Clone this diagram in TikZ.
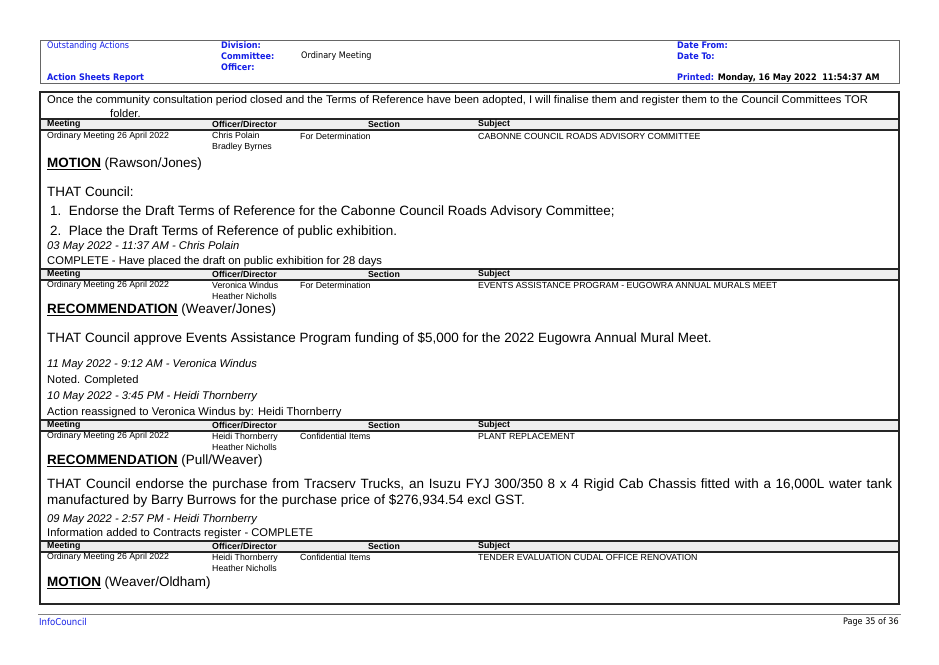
\documentclass[tikz,border=0pt]{standalone}
\usepackage{fontspec}
\setmainfont{Liberation Sans}
\newfontfamily\hdr{DejaVu Sans Condensed}
\definecolor{hblue}{RGB}{20,30,230}
\definecolor{hgrey}{RGB}{238,238,238}
\begin{document}
\begin{tikzpicture}[x=1pt,y=-1pt,
  txt/.style={anchor=west,inner sep=0pt,font=\fontsize{8.8}{11}\selectfont},
  hd/.style={anchor=west,inner sep=0pt,font=\fontsize{8.8}{10}\selectfont\bfseries},
  big/.style={anchor=west,inner sep=0pt,font=\fontsize{13.45}{16}\selectfont},
  mid/.style={anchor=west,inner sep=0pt,font=\fontsize{11.2}{13}\selectfont},
  blu/.style={anchor=west,inner sep=0pt,text=hblue,font=\hdr\fontsize{9}{10}\selectfont},
  blub/.style={blu,font=\hdr\fontsize{9}{10}\selectfont\bfseries}]
\useasboundingbox (0,0) rectangle (939,664);
% header box
\draw[gray!80!black,line width=1pt] (40,40) rectangle (899,83);
\node[blu] (oa) at (47,46) {Outstanding Actions};
\node[blub] (asr) at (47,78) {Action Sheets Report};
\node[blub] (div) at (221,45) {Division:};
\node[blub] (com) at (221,56) {Committee:};
\node[blub] (off) at (221,67) {Officer:};
\node[txt,font=\hdr\fontsize{9}{10}\selectfont] (om) at (301,56) {Ordinary Meeting};
\node[blub] (df) at (677,45) {Date From:};
\node[blub] (dt) at (677,56) {Date To:};
\node[blub] (pr) at (677,78) {Printed: \textcolor{black}{Monday, 16 May 2022\ \ 11:54:37 AM}};
% main box
\draw[line width=1.8pt,black!85] (40,92) rectangle (899,604);
\node[mid] (l1) at (47,101) {Once the community consultation period closed and the Terms of Reference have been adopted, I will finalise them and register them to the Council Committees TOR};
\node[mid] (l2) at (110,113) {folder.};
\foreach \t/\b in {119/130,269/280,420/431,541/552}{
  \fill[hgrey] (41,\t) rectangle (898,\b);
  \draw[line width=1.6pt,black!85] (40,\t) -- (899,\t);
  \draw[line width=1.6pt,black!85] (40,\b) -- (899,\b);
  \node[hd] at (47,{(\t+\b)/2}) {Meeting};
  \node[hd] at (212,{(\t+\b)/2}) {Officer/Director};
  \node[hd,anchor=center] at (384,{(\t+\b)/2}) {Section};
  \node[hd] at (478,{(\t+\b)/2}) {Subject};
}
% record 1
\node[txt] (m1) at (47,136) {Ordinary Meeting 26 April 2022};
\node[txt,align=left] (o1) at (212,142) {Chris Polain\\Bradley Byrnes};
\node[txt] (s1) at (300,136) {For Determination};
\node[txt] (u1) at (478,136) {CABONNE COUNCIL ROADS ADVISORY COMMITTEE};
\node[big] (mo1) at (47,164) {\textbf{\underline{MOTION}} (Rawson/Jones)};
\node[big] (th1) at (47,192) {THAT Council:};
\node[big] (it1) at (50,212) {1.\ \ Endorse the Draft Terms of Reference for the Cabonne Council Roads Advisory Committee;};
\node[big] (it2) at (50,232) {2.\ \ Place the Draft Terms of Reference of public exhibition.};
\node[mid,font=\fontsize{11.2}{13}\selectfont\itshape] (n1) at (47,247) {03 May 2022 - 11:37 AM - Chris Polain};
\node[mid] (c1) at (47,262) {COMPLETE - Have placed the draft on public exhibition for 28 days};
% record 2
\node[txt] (m2) at (47,285) {Ordinary Meeting 26 April 2022};
\node[txt,align=left] (o2) at (212,291) {Veronica Windus\\Heather Nicholls};
\node[txt] (s2) at (300,285) {For Determination};
\node[txt] (u2) at (478,285) {EVENTS ASSISTANCE PROGRAM - EUGOWRA ANNUAL MURALS MEET};
\node[big] (mo2) at (47,310) {\textbf{\underline{RECOMMENDATION}} (Weaver/Jones)};
\node[big] (th2) at (47,339) {THAT Council approve Events Assistance Program funding of \$5,000 for the 2022 Eugowra Annual Mural Meet.};
\node[mid,font=\fontsize{11.2}{13}\selectfont\itshape] (n2) at (47,365) {11 May 2022 - 9:12 AM - Veronica Windus};
\node[mid] (c2) at (47,381) {Noted. Completed};
\node[mid,font=\fontsize{11.2}{13}\selectfont\itshape] (n3) at (47,397) {10 May 2022 - 3:45 PM - Heidi Thornberry};
\node[mid] (c3) at (47,413) {Action reassigned to Veronica Windus by: Heidi Thornberry};
% record 3
\node[txt] (m3) at (47,436) {Ordinary Meeting 26 April 2022};
\node[txt,align=left] (o3) at (212,442) {Heidi Thornberry\\Heather Nicholls};
\node[txt] (s3) at (300,436) {Confidential Items};
\node[txt] (u3) at (478,436) {PLANT REPLACEMENT};
\node[big] (mo3) at (47,461) {\textbf{\underline{RECOMMENDATION}} (Pull/Weaver)};
\node[big,anchor=north west,text width=845pt,align=justify,font=\fontsize{13.45}{16}\selectfont] (th3) at (47,479) {THAT Council endorse the purchase from Tracserv Trucks, an Isuzu FYJ 300/350 8 x 4 Rigid Cab Chassis fitted with a 16,000L water tank manufactured by Barry Burrows for the purchase price of \$276,934.54 excl GST.};
\node[mid,font=\fontsize{11.2}{13}\selectfont\itshape] (n4) at (47,520) {09 May 2022 - 2:57 PM - Heidi Thornberry};
\node[mid] (c4) at (47,534) {Information added to Contracts register - COMPLETE};
% record 4
\node[txt] (m4) at (47,557) {Ordinary Meeting 26 April 2022};
\node[txt,align=left] (o4) at (212,563) {Heidi Thornberry\\Heather Nicholls};
\node[txt] (s4) at (300,557) {Confidential Items};
\node[txt] (u4) at (478,557) {TENDER EVALUATION CUDAL OFFICE RENOVATION};
\node[big] (mo4) at (47,583) {\textbf{\underline{MOTION}} (Weaver/Oldham)};
% footer
\draw[gray,line width=0.8pt] (38,614) -- (901,614);
\node[blu,font=\hdr\fontsize{9.5}{11}\selectfont] (ic) at (39,622) {InfoCouncil};
\node[txt,anchor=east,font=\hdr\fontsize{9}{10}\selectfont] (pg) at (899,622) {Page 35 of 36};
\end{tikzpicture}
\end{document}
